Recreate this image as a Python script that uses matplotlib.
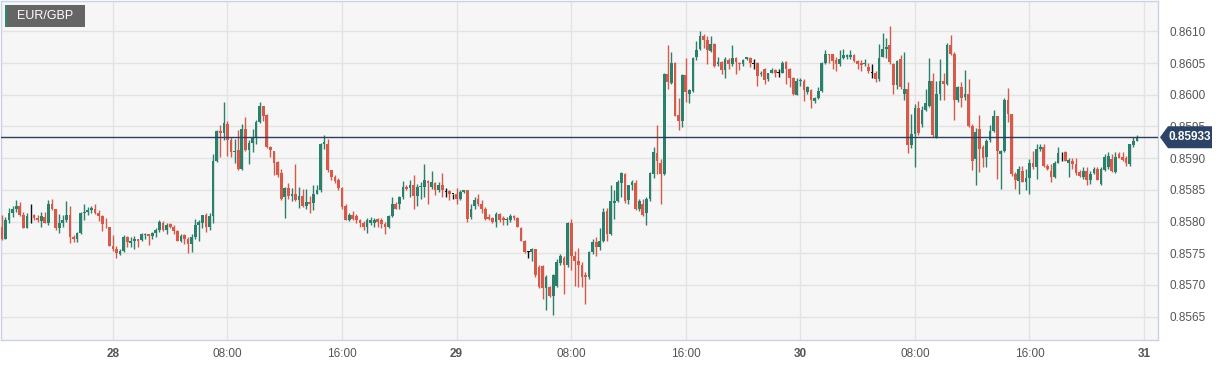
import numpy as np
import pandas as pd
import matplotlib
matplotlib.use("Agg")
import matplotlib.pyplot as plt
import matplotlib.dates as mdates
import matplotlib.transforms as mtransforms
from matplotlib.patches import Rectangle, Polygon

# ---------------- data ----------------
symbol = "EUR/GBP"
first_candle = "2025-01-27 16:15"
candle_freq = "15min"
price_scale = 1e-5  # values below are in units of 0.00001 (pipettes)

open_p = [
85791,85773,85802,85813,85819,85825,85810,85790,85808,85810,85805,85801,85807,85798,85828,85819,85790,85798,85803,85810,
85776,85772,85782,85813,85815,85818,85820,85813,85808,85792,85791,85762,85757,85748,85754,85776,85766,85769,85772,85771,
85779,85781,85777,85782,85787,85798,85787,85796,85791,85785,85770,85778,85773,85765,85775,85795,85798,85810,85791,85809,
85895,85943,85939,85954,85928,85910,85913,85883,85946,85913,85924,85933,85957,85983,85968,85918,85911,85894,85876,85838,
85853,85840,85843,85834,85840,85825,85830,85829,85844,85849,85922,85923,85881,85870,85865,85853,85825,85803,85810,85809,
85802,85798,85791,85798,85798,85804,85802,85796,85791,85808,85828,85827,85838,85855,85853,85857,85841,85855,85855,85864,
85854,85861,85849,85858,85847,85848,85844,85844,85836,85846,85849,85807,85824,85836,85828,85820,85807,85805,85800,85812,
85806,85802,85803,85809,85806,85790,85770,85752,85752,85756,85728,85729,85695,85696,85682,85699,85734,85743,85731,85797,
85746,85738,85731,85716,85712,85752,85768,85760,85770,85817,85780,85829,85833,85861,85875,85834,85857,85861,85820,85828,
85813,85835,85875,85908,85893,85875,86033,86018,86050,85968,85958,86032,86002,86006,86059,86072,86093,86086,86069,86080,
86048,86051,86039,86055,86049,86058,86050,86048,86057,86058,86049,86050,86033,86041,86025,86035,86039,86035,86035,86051,
86041,86027,86000,86021,86022,86004,86007,85990,85995,86006,86050,86064,86064,86055,86048,86058,86060,86059,86062,86054,
86050,86048,86044,86035,86035,86025,86060,86072,86078,86049,86016,86057,86002,86009,85921,85938,85979,85954,85976,85983,
86021,85933,86001,86021,86017,86079,86065,85991,86013,85996,86001,85951,85899,85946,85917,85902,85928,85943,85966,85906,
85911,85991,85969,85875,85864,85879,85863,85869,85893,85886,85914,85918,85887,85880,85870,85893,85909,85909,85893,85895,
85890,85878,85871,85880,85865,85876,85883,85859,85881,85886,85899,85878,85907,85902,85901,85890,85921,85927]

high_p = [
85811,85807,85822,85825,85834,85831,85815,85813,85828,85812,85810,85815,85815,85834,85836,85820,85812,85810,85833,85825,
85778,85783,85815,85827,85823,85825,85827,85818,85810,85806,85792,85778,85761,85757,85778,85777,85776,85777,85773,85782,
85782,85781,85783,85790,85802,85801,85798,85798,85794,85786,85780,85780,85776,85780,85804,85803,85811,85813,85813,85906,
85944,85952,85988,85959,85933,85931,85944,85954,85965,85928,85946,85960,85988,85983,85969,85919,85912,85896,85883,85854,
85861,85853,85890,85854,85851,85852,85840,85857,85857,85924,85936,85931,85882,85873,85868,85854,85828,85813,85817,85812,
85804,85801,85806,85807,85806,85806,85806,85799,85810,85838,85831,85841,85864,85857,85865,85873,85859,85862,85891,85865,
85880,85862,85862,85877,85853,85850,85844,85853,85850,85850,85850,85828,85838,85844,85834,85823,85812,85807,85815,85813,
85808,85807,85812,85811,85807,85792,85771,85754,85758,85757,85731,85731,85715,85699,85717,85741,85749,85745,85799,85804,
85754,85758,85736,85720,85754,85772,85775,85790,85821,85821,85857,85849,85865,85878,85876,85858,85865,85865,85836,85836,
85839,85878,85917,85953,85899,86034,86078,86067,86051,85995,86033,86058,86009,86060,86085,86101,86096,86093,86093,86081,
86059,86053,86059,86058,86078,86059,86051,86057,86060,86059,86057,86051,86038,86043,86035,86042,86041,86041,86054,86054,
86043,86028,86027,86027,86025,86014,86009,85997,86012,86051,86071,86065,86065,86059,86071,86072,86065,86071,86064,86055,
86055,86057,86050,86048,86038,86080,86097,86090,86108,86050,86055,86063,86067,86020,85969,85986,85990,85983,86009,86058,
86035,86022,86057,86035,86081,86095,86067,86014,86020,86039,86025,85954,85948,85968,85920,85930,85953,85976,85967,85913,
85995,86011,85970,85878,85888,85888,85883,85899,85912,85922,85922,85922,85891,85891,85896,85918,85910,85911,85901,85900,
85901,85881,85886,85886,85880,85886,85886,85886,85907,85909,85907,85909,85909,85909,85904,85923,85933,85936]

low_p = [
85771,85772,85797,85807,85815,85808,85789,85789,85798,85802,85799,85791,85797,85794,85818,85786,85782,85791,85799,85766,
85768,85768,85781,85803,85810,85813,85812,85801,85785,85790,85761,85754,85743,85747,85752,85760,85760,85757,85760,85769,
85773,85763,85773,85776,85783,85785,85780,85789,85781,85769,85768,85764,85750,85752,85773,85770,85789,85783,85787,85798,
85894,85902,85928,85904,85902,85892,85882,85882,85912,85891,85910,85923,85956,85959,85916,85902,85873,85870,85834,85806,
85836,85833,85833,85822,85823,85819,85813,85818,85843,85847,85915,85878,85865,85860,85849,85819,85802,85801,85802,85798,
85791,85787,85782,85794,85792,85791,85789,85780,85790,85807,85819,85820,85836,85850,85838,85820,85825,85836,85839,85827,
85852,85842,85846,85838,85838,85834,85836,85827,85834,85845,85800,85804,85820,85825,85813,85802,85802,85797,85791,85799,
85795,85795,85800,85802,85791,85769,85750,85743,85738,85713,85695,85678,85661,85681,85652,85697,85731,85685,85728,85723,
85699,85696,85696,85670,85710,85748,85745,85755,85767,85770,85778,85804,85830,85838,85829,85828,85849,85818,85817,85809,
85795,85833,85869,85875,85827,85874,86009,86017,85966,85944,85949,85988,85987,86004,86055,86071,86074,86049,86067,86044,
86046,86033,86027,86041,86046,86033,86039,86046,86055,86044,86041,86014,86030,86017,86022,86034,86028,86028,86034,86017,
86012,86000,85999,86014,85990,86001,85979,85987,85993,86004,86049,86050,86041,86038,86046,86057,86057,86057,86051,86041,
86038,86046,86034,86027,86020,86022,86059,86058,86048,86001,86009,86009,85992,85908,85916,85886,85936,85949,85975,85980,
85934,85932,85991,85992,86016,86063,85960,85988,85980,85991,85949,85881,85858,85878,85886,85886,85925,85941,85867,85851,
85909,85957,85872,85851,85843,85862,85850,85843,85883,85867,85912,85886,85881,85862,85869,85892,85896,85895,85870,85883,
85874,85870,85867,85858,85859,85875,85865,85858,85880,85883,85878,85876,85900,85895,85888,85888,85917,85927]

close_p = [
85773,85802,85813,85819,85825,85810,85790,85808,85808,85806,85802,85809,85798,85828,85819,85790,85798,85803,85811,85776,
85773,85782,85814,85815,85818,85821,85813,85808,85796,85791,85762,85756,85750,85754,85776,85768,85769,85773,85769,85780,
85781,85777,85782,85787,85800,85786,85795,85791,85785,85770,85777,85773,85765,85775,85795,85799,85810,85791,85809,85895,
85943,85939,85955,85928,85910,85912,85883,85946,85913,85924,85933,85957,85982,85966,85918,85913,85893,85873,85836,85853,
85840,85843,85834,85840,85825,85831,85827,85844,85849,85922,85925,85881,85870,85864,85853,85823,85803,85810,85804,85802,
85798,85791,85802,85803,85803,85799,85796,85791,85808,85828,85820,85838,85855,85852,85857,85841,85855,85856,85865,85861,
85862,85849,85857,85850,85847,85844,85844,85836,85846,85849,85804,85820,85834,85828,85820,85804,85804,85799,85812,85802,
85802,85804,85809,85806,85792,85770,85752,85752,85757,85715,85696,85695,85713,85682,85715,85736,85745,85731,85797,85746,
85738,85731,85713,85713,85752,85768,85760,85770,85815,85780,85833,85833,85862,85876,85833,85857,85862,85820,85832,85811,
85836,85876,85909,85896,85875,86033,86020,86050,85967,85958,86032,86004,86007,86058,86071,86093,86086,86071,86080,86046,
86051,86039,86057,86049,86058,86051,86048,86055,86059,86050,86049,86030,86035,86023,86034,86039,86034,86035,86050,86041,
86027,86001,86021,86023,86007,86012,85991,85995,86006,86050,86064,86063,86053,86048,86057,86062,86062,86063,86054,86049,
86047,86050,86037,86035,86025,86058,86072,86076,86051,86016,86053,86012,86009,85921,85938,85979,85939,85976,85987,86021,
85936,86001,86021,86017,86079,86065,85991,86013,85995,86001,85951,85896,85941,85914,85901,85927,85943,85966,85911,85911,
85991,85969,85875,85865,85883,85863,85869,85893,85886,85914,85918,85887,85883,85870,85893,85908,85909,85896,85897,85891,
85876,85872,85880,85865,85875,85883,85866,85883,85902,85904,85880,85902,85901,85897,85892,85922,85927,85933]

y_ticks = [0.8565, 0.8570, 0.8575, 0.8580, 0.8585, 0.8590, 0.8595, 0.8600, 0.8605, 0.8610]

# ---------------- prepare ----------------
o = np.array(open_p) * price_scale
h = np.array(high_p) * price_scale
l = np.array(low_p) * price_scale
c = np.array(close_p) * price_scale
n = len(c)
times = pd.date_range(first_candle, periods=n, freq=candle_freq)
x = mdates.date2num(times.to_pydatetime())
step = x[1] - x[0]

GREEN = "#2a806a"
RED = "#d6594a"
DOJI = "#111111"
cols = np.where(c > o, GREEN, np.where(c < o, RED, DOJI))

W, H = 1229, 366
plt.rcParams["font.family"] = ["Liberation Sans", "DejaVu Sans"]
fig = plt.figure(figsize=(W / 100, H / 100), dpi=100, facecolor="white")

def fx(px):
    return px / W

def fy(py):
    return 1 - py / H

ax = fig.add_axes([fx(1), fy(340), fx(1158) - fx(1), fy(1) - fy(340)])
ax.set_facecolor("#f6f6f6")

# candles
ax.vlines(x, l, h, colors=cols, linewidth=1.0, zorder=3)
body_bottom = np.minimum(o, c)
body_h = np.maximum(np.abs(c - o), 1.1e-5)
ax.bar(x, body_h, bottom=body_bottom, width=step * 0.76, color=cols,
       linewidth=0, zorder=4, align="center")

# limits
ax.set_ylim(0.85613, 0.86148)
xl = mdates.date2num(pd.Timestamp(first_candle) - pd.Timedelta(minutes=3.75))
xr = mdates.date2num(pd.Timestamp(first_candle) + pd.Timedelta(minutes=15 * 322.9))
ax.set_xlim(xl, xr)

# x ticks every 8 hours
tick_times = pd.date_range("2025-01-28 00:00", "2025-01-31 00:00", freq="8h")
ax.set_xticks(mdates.date2num(tick_times.to_pydatetime()))
ax.set_xticklabels([str(t.day) if t.hour == 0 else t.strftime("%H:%M") for t in tick_times])
for lab, t in zip(ax.get_xticklabels(), tick_times):
    if t.hour == 0:
        lab.set_fontweight("bold")

ax.set_yticks(y_ticks)
ax.set_yticklabels([f"{v:.4f}" for v in y_ticks])
ax.yaxis.tick_right()
ax.tick_params(axis="y", length=0, pad=8, labelsize=8.5, labelcolor="#555555")
ax.tick_params(axis="x", length=0, pad=6, labelsize=8.5, labelcolor="#555555")

ax.grid(True, color="#e3e3e3", linewidth=1, zorder=0)
ax.set_axisbelow(True)
for s in ax.spines.values():
    s.set_color("#cbd2e4")
    s.set_linewidth(1)

# last price line + label
last = c[-1]
ax.axhline(last, color="#2c3d5e", linewidth=1, zorder=5)
btr = mtransforms.blended_transform_factory(fig.transFigure, ax.transData)
hh = 11 * (0.86148 - 0.85613) / 339
poly = Polygon([(fx(1160), last), (fx(1168), last + hh), (fx(1212), last + hh),
                (fx(1212), last - hh), (fx(1168), last - hh)], closed=True,
               transform=btr, facecolor="#2d4466", edgecolor="none",
               clip_on=False, zorder=10)
fig.add_artist(poly)
fig.text(fx(1190), last, f"{last:.5f}", transform=btr, ha="center", va="center",
         color="white", fontsize=8.5, fontweight="bold", zorder=11)

# symbol box
fig.add_artist(Rectangle((fx(5), fy(27)), fx(80), fy(5) - fy(27),
                         transform=fig.transFigure, facecolor="#656565",
                         edgecolor="none", zorder=10))
fig.add_artist(Rectangle((fx(5), fy(27)), fx(2.3), fy(5) - fy(27),
                         transform=fig.transFigure, facecolor="#2a8a6e",
                         edgecolor="none", zorder=11))
fig.text(fx(17), fy(16), symbol, ha="left", va="center", color="white",
         fontsize=9, zorder=12)

fig.savefig("out.png", dpi=100, facecolor="white")
